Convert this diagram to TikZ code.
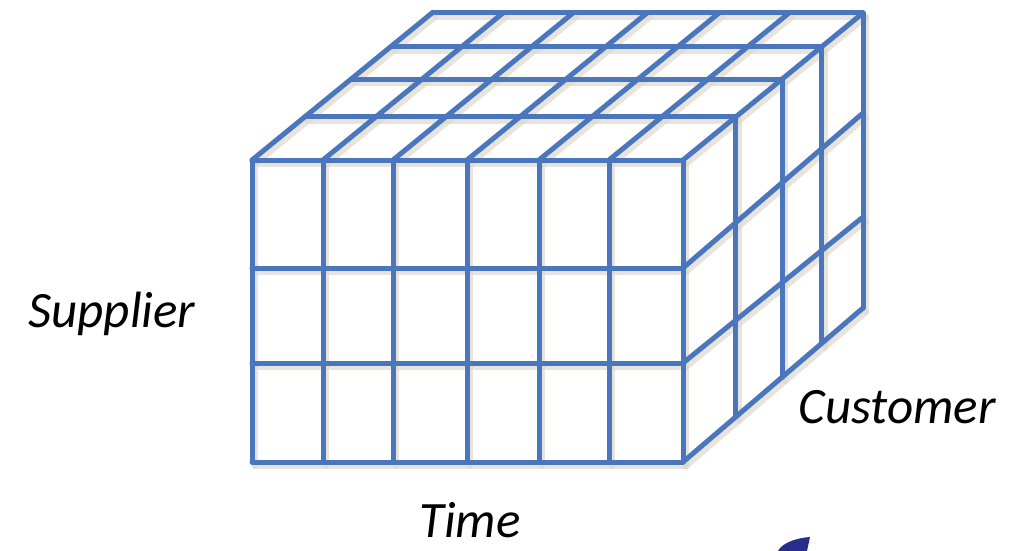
\documentclass[tikz,border=0pt]{standalone}
\usepackage{fontspec}
\setmainfont{Carlito}
\definecolor{cubeblue}{RGB}{74,118,190}
\definecolor{blobblue}{RGB}{40,44,140}
\definecolor{shadecol}{RGB}{222,216,205}
\newcommand\drawcubegrid[1]{%
  % front face
  \foreach \x in {252,323,393,467,539,609,683} {\draw[#1] (\x,160) -- (\x,462);}
  \foreach \y in {160,268,363,462} {\draw[#1] (252,\y) -- (683,\y);}
  % top face
  \foreach \t in {0.294,0.55,0.772,1} {\draw[#1] ({252+180*\t},{160-147*\t}) -- ({683+180*\t},{160-147*\t});}
  \foreach \x in {252,323,393,467,539,609,683} {\draw[#1] (\x,160) -- ({\x+180},13);}
  % right face
  \foreach \t in {0.294,0.55,0.772,1} {\draw[#1] ({683+180*\t},{160-147*\t}) -- ({683+180*\t},{462-154*\t});}
  \draw[#1] (683,268) -- (863,113);
  \draw[#1] (683,363) -- (863,217);
  \draw[#1] (683,462) -- (863,308);
}
\begin{document}
\begin{tikzpicture}[x=1pt,y=-1pt,
  gridline/.style={draw=cubeblue,line width=5pt,line cap=round,line join=round},
  shadowline/.style={draw=shadecol,line width=6pt,line cap=round,opacity=0.7},
  axislabel/.style={font=\fontsize{51}{60}\selectfont\itshape,text=black,inner sep=0pt,anchor=base}]
\useasboundingbox (0,0) rectangle (1009,551);
\begin{scope}[shift={(3,4)}]
  \drawcubegrid{shadowline}
\end{scope}
\drawcubegrid{gridline}
\node[axislabel] (supplier) at (112,327) {Supplier};
\node[axislabel] (customer) at (897,423) {Customer};
\node[axislabel] (time) at (470,537) {Time};
\fill[blobblue] (810,537) -- (807,551) -- (778,551) .. controls (782,543) and (796,538) .. (810,537) -- cycle;
\end{tikzpicture}
\end{document}
